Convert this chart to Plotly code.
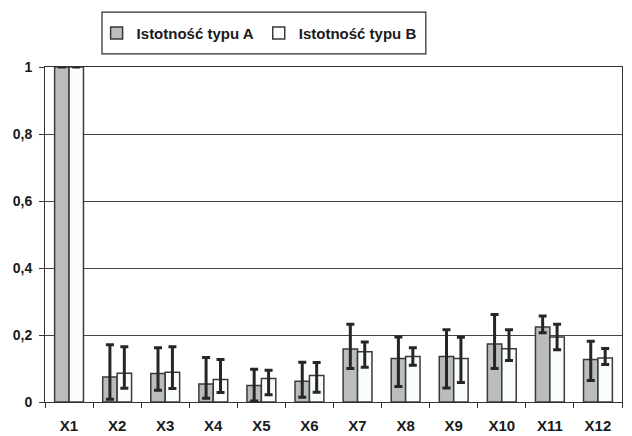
import plotly.graph_objects as go

categories = ["X1", "X2", "X3", "X4", "X5", "X6", "X7", "X8", "X9", "X10", "X11", "X12"]
series_a_name = "Istotność typu A"
series_b_name = "Istotność typu B"

a_values = [1.0, 0.075, 0.085, 0.054, 0.049, 0.062, 0.158, 0.130, 0.136, 0.173, 0.224, 0.127]
a_err_hi = [1.0, 0.171, 0.162, 0.133, 0.098, 0.119, 0.232, 0.194, 0.216, 0.261, 0.257, 0.181]
a_err_lo = [1.0, 0.008, 0.035, 0.011, 0.003, 0.014, 0.100, 0.046, 0.042, 0.100, 0.207, 0.064]

b_values = [1.0, 0.086, 0.089, 0.067, 0.070, 0.079, 0.150, 0.136, 0.130, 0.159, 0.194, 0.131]
b_err_hi = [1.0, 0.165, 0.165, 0.127, 0.095, 0.118, 0.179, 0.162, 0.193, 0.216, 0.232, 0.160]
b_err_lo = [1.0, 0.041, 0.040, 0.028, 0.022, 0.029, 0.104, 0.110, 0.058, 0.124, 0.156, 0.112]

y_ticks = [0, 0.2, 0.4, 0.6, 0.8, 1]

def plus(v, hi):
    return [h - x for x, h in zip(v, hi)]

def minus(v, lo):
    return [x - l for x, l in zip(v, lo)]

err_style = dict(type="data", symmetric=False, thickness=3, width=4, color="#262626")
FONT = "Liberation Sans, Arial, sans-serif"

fig = go.Figure()
fig.add_trace(go.Bar(
    x=categories, y=a_values, name=series_a_name,
    marker=dict(color="#b9bdbd", line=dict(color="#3a3a3a", width=1.5)),
    error_y=dict(array=plus(a_values, a_err_hi), arrayminus=minus(a_values, a_err_lo), **err_style),
    cliponaxis=False,
))
fig.add_trace(go.Bar(
    x=categories, y=b_values, name=series_b_name,
    marker=dict(color="#fbfdfd", line=dict(color="#3a3a3a", width=1.5)),
    error_y=dict(array=plus(b_values, b_err_hi), arrayminus=minus(b_values, b_err_lo), **err_style),
    cliponaxis=False,
))

# legend frame (decoration)
fig.add_shape(type="rect", xref="paper", yref="paper",
              x0=0.0988, x1=0.660, y0=1.039, y1=1.164,
              line=dict(color="#2a2a2a", width=1.2), fillcolor="rgba(0,0,0,0)", layer="above")

fig.update_layout(
    width=632, height=436,
    margin=dict(l=45, r=10, t=67, b=34),
    paper_bgcolor="white", plot_bgcolor="white",
    barmode="group", bargap=0.4, bargroupgap=0.0,
    separators=",.",
    font=dict(family=FONT, size=13, color="#1a1a1a"),
    showlegend=True,
    legend=dict(
        orientation="h", x=0.41, y=0.924, xref="container", yref="container",
        xanchor="center", yanchor="middle",
        borderwidth=0, bgcolor="rgba(0,0,0,0)",
        font=dict(size=15, family=FONT, color="#1a1a1a", weight="bold"),
        itemwidth=30, traceorder="normal",
    ),
    xaxis=dict(
        showline=True, linecolor="#333", linewidth=1, mirror=True,
        ticks="outside", tickson="boundaries", ticklen=5, tickcolor="#333",
        ticklabelstandoff=10, automargin=False,
        tickfont=dict(size=15, family=FONT, weight="bold"),
        showgrid=False,
    ),
    yaxis=dict(
        range=[0, 1], tickvals=y_ticks, showgrid=True, gridcolor="#444", gridwidth=1,
        showline=True, linecolor="#333", linewidth=1, mirror=True,
        ticks="outside", ticklen=5, tickcolor="#333",
        ticklabelstandoff=4, automargin=False,
        tickfont=dict(size=14, family=FONT, weight="bold"),
        zeroline=False,
    ),
)
fig.write_html("out.html")
